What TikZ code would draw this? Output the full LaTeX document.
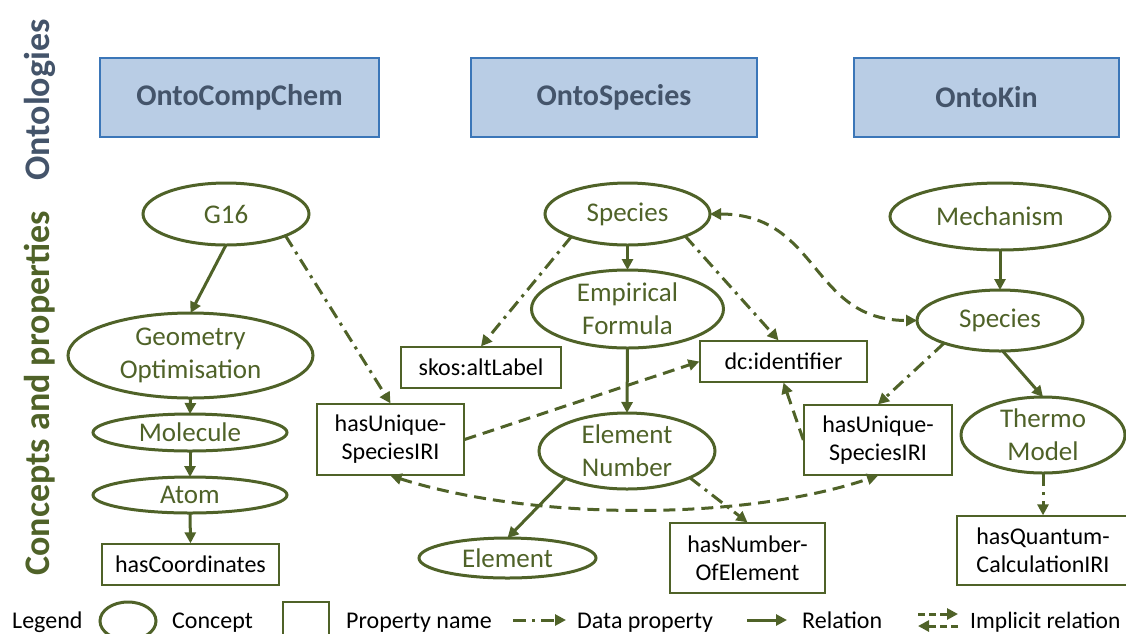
\documentclass[tikz,border=0pt]{standalone}
\usepackage{fontspec}
\setmainfont{Carlito}
\usetikzlibrary{shapes.geometric, arrows.meta, calc}
\definecolor{ogreen}{HTML}{4F6228}
\definecolor{hdrfill}{HTML}{B9CDE5}
\definecolor{hdrline}{HTML}{3B76B8}
\definecolor{hdrtext}{HTML}{44546A}
\tikzset{
  concept/.style={ellipse, draw=ogreen, line width=3pt, inner sep=0pt, outer sep=0pt},
  ctext/.style={label={[text=ogreen, font=\fontsize{27}{33}\selectfont, align=center, inner sep=0pt]center:#1}},
  prop/.style={rectangle, draw=ogreen, line width=1.3pt, inner sep=0pt, font=\fontsize{24}{28}\selectfont, align=center, text=black},
  header/.style={rectangle, draw=hdrline, fill=hdrfill, line width=2pt, font=\fontsize{30}{36}\selectfont\bfseries, text=hdrtext, minimum height=79},
  sidelabel/.style={rotate=90, font=\fontsize{36}{40}\selectfont\bfseries, inner sep=0pt},
  tip/.tip={Triangle[length=11pt,width=11pt]},
  rel/.style={draw=ogreen, line width=3pt, -tip},
  dataprop/.style={rel, dash pattern=on 13pt off 6pt on 3pt off 6pt},
  implicit/.style={draw=ogreen, line width=3pt, dash pattern=on 12pt off 7pt, tip-tip},
  implone/.style={draw=ogreen, line width=3pt, dash pattern=on 12pt off 7pt, -tip},
  lgtext/.style={font=\fontsize{24}{28}\selectfont, text=black, inner sep=0pt, anchor=base west},
}
\begin{document}
\begin{tikzpicture}[x=1pt,y=-1pt]
\useasboundingbox (0,0) rectangle (1126,633);

% side labels
\node[sidelabel, text=hdrtext] (lont) at (40,100) {Ontologies};
\node[sidelabel, text=ogreen] (lcp) at (40,393.5) {Concepts and properties};

% headers
\node[header, minimum width=279] (occ) at (239.5,97.5) {OntoCompChem};
\node[header, minimum width=286] (os) at (614,97.5) {OntoSpecies};
\node[header, minimum width=265] (ok) at (986.5,97.5) {OntoKin};

% OntoCompChem
\node[concept, minimum width=166, minimum height=62, ctext=G16] (g16) at (226,214) {};
\node[concept, minimum width=245, minimum height=85, ctext={Geometry\\Optimisation}] (geo) at (190.5,355.5) {};
\node[concept, minimum width=194, minimum height=37, ctext=Molecule] (mol) at (190,432.5) {};
\node[concept, minimum width=194, minimum height=36, ctext=Atom] (atom) at (190,495) {};
\node[prop, minimum width=177, minimum height=41] (hc) at (190.5,564.5) {hasCoordinates};

% OntoSpecies
\node[concept, minimum width=165, minimum height=62, ctext=Species] (sp1) at (627.5,214) {};
\node[concept, minimum width=192, minimum height=78, ctext={Empirical\\Formula}] (ef) at (627.5,309) {};
\node[concept, minimum width=176, minimum height=76, ctext={Element\\Number}] (en) at (627,451) {};
\node[concept, minimum width=177, minimum height=40, ctext=Element] (el) at (507.5,558) {};
\node[prop, minimum width=160, minimum height=41] (skos) at (481,367.5) {skos:altLabel};
\node[prop, minimum width=167, minimum height=41] (dc) at (783.5,361.5) {dc:identifier};
\node[prop, minimum width=147, minimum height=71] (hu1) at (390.5,439.5) {hasUnique-\\SpeciesIRI};
\node[prop, minimum width=155, minimum height=70] (hne) at (747.5,558) {hasNumber-\\OfElement};

% OntoKin
\node[concept, minimum width=220, minimum height=67, ctext=Mechanism] (mech) at (1000,216.5) {};
\node[concept, minimum width=166, minimum height=61, ctext=Species] (sp2) at (1000,320.5) {};
\node[concept, minimum width=164, minimum height=76, ctext={Thermo\\Model}] (tm) at (1043,435) {};
\node[prop, minimum width=148, minimum height=70] (hu2) at (878,440) {hasUnique-\\SpeciesIRI};
\node[prop, minimum width=172, minimum height=69] (hq) at (1043,550.5) {hasQuantum-\\CalculationIRI};

% connectors
\draw[rel] (g16.south) -- (geo.north);
\draw[dataprop] (g16.-20) -- (hu1.north);
\draw[rel] (geo.south) -- (mol.north);
\draw[rel] (mol.south) -- (atom.north);
\draw[rel] (atom.south) -- (hc.north);
\draw[rel] (sp1.south) -- (ef.north);
\draw[rel] (ef.south) -- (en.north);
\draw[rel] (en.204) -- (el.north);
\draw[dataprop] (sp1.202) -- (skos.north);
\draw[dataprop] (sp1.-21) -- ([xshift=-5pt]dc.north);
\draw[dataprop] (en.-23) -- (hne.north);
\draw[implone] (hu1.east) -- (dc.west);
\draw[implicit] (sp1.east) .. controls (820,214) and (810,320.5) .. (sp2.west);
\draw[implicit] (hu1.south) .. controls (530,520) and (740,522) .. (hu2.south);
\draw[implone] (hu2.west) -- (dc.south);
\draw[rel] (mech.south) -- (sp2.north);
\draw[dataprop] (sp2.202) -- (hu2.north);
\draw[rel] (sp2.-85) -- (tm.north);
\draw[dataprop] (tm.south) -- (hq.north);

% legend
\node[lgtext] (lg) at (12,628) {Legend};
\node[concept, minimum width=56, minimum height=38] (lgc) at (128,621) {};
\node[lgtext] (lgct) at (172,628) {Concept};
\node[prop, minimum width=46, minimum height=38] (lgp) at (306,621) {};
\node[lgtext] (lgpt) at (346,628) {Property name};
\coordinate (d1) at (513,620); \coordinate (d2) at (566,620);
\draw[dataprop] (d1) -- (d2);
\node[lgtext] (lgdt) at (577,628) {Data property};
\coordinate (r1) at (747,620); \coordinate (r2) at (787,620);
\draw[rel] (r1) -- (r2);
\node[lgtext] (lgrt) at (802,628) {Relation};
\coordinate (i1) at (918,614); \coordinate (i2) at (958,614);
\coordinate (i3) at (958,626); \coordinate (i4) at (918,626);
\draw[implone, dash pattern=on 7pt off 4pt] (i1) -- (i2);
\draw[implone, dash pattern=on 7pt off 4pt] (i3) -- (i4);
\node[lgtext, font=\fontsize{23.5}{28}\selectfont] (lgit) at (970,628) {Implicit relation};
\end{tikzpicture}
\end{document}
